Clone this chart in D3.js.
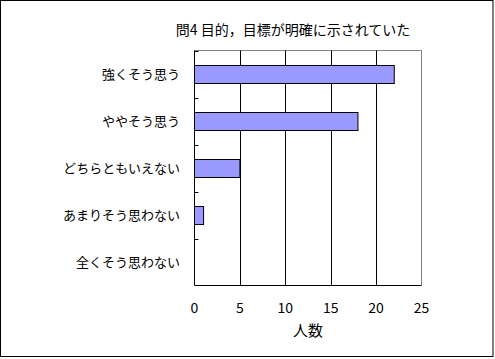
<!DOCTYPE html>
<html><head><meta charset="utf-8">
<script src="https://cdn.jsdelivr.net/npm/d3@7"></script>
<style>html,body{margin:0;padding:0;background:#fff;}svg{display:block;}</style>
</head><body>
<svg id="c" width="495" height="359"></svg>
<script>
const categories = ["強くそう思う","ややそう思う","どちらともいえない","あまりそう思わない","全くそう思わない"];
const values = [22, 18, 5, 1, 0];
const xTicks = [0, 5, 10, 15, 20, 25];
const title = "問4 目的，目標が明確に示されていた";
const xTitle = "人数";

const font = "'Noto Sans CJK JP', sans-serif";
const svg = d3.select("#c");
const L = 194.5, R = 421.5, T = 50.5, B = 285.5;

svg.append("rect").attr("x",0.5).attr("y",0.5).attr("width",492.5).attr("height",356)
  .attr("fill","#fff").attr("stroke","#000").attr("stroke-width",1);

const x = d3.scaleLinear().domain([0,25]).range([L,R]);
const y = d3.scaleBand().domain(categories).range([T,B]).paddingInner(0.617).paddingOuter(0.3085);
const yb = d3.scaleBand().domain(categories).range([T,B]);

// plot border (gray top/right)
svg.append("line").attr("x1",L).attr("x2",R).attr("y1",T).attr("y2",T).attr("stroke","#808080");
svg.append("line").attr("x1",R).attr("x2",R).attr("y1",T).attr("y2",B).attr("stroke","#808080");

// gridlines
svg.append("g").selectAll("line").data(xTicks.filter(d=>d>0&&d<25)).join("line")
  .attr("x1",d=>Math.round(x(d))+0.5).attr("x2",d=>Math.round(x(d))+0.5)
  .attr("y1",T).attr("y2",B).attr("stroke","#000");

// bars
svg.append("g").selectAll("rect").data(values).join("rect")
  .attr("x",L).attr("y",(d,i)=>Math.round(y(categories[i]))+0.5)
  .attr("width",d=>Math.max(0,x(d)-L)).attr("height",18)
  .attr("fill","#9999FF").attr("stroke","#000").attr("stroke-width",1)
  .attr("display",d=>d>0?null:"none");

// y axis
svg.append("line").attr("x1",L).attr("x2",L).attr("y1",T).attr("y2",B).attr("stroke","#000");
svg.append("g").selectAll("line").data(categories).join("line")
  .attr("x1",L).attr("x2",L+4)
  .attr("y1",d=>Math.round(yb(d))+0.5).attr("y2",d=>Math.round(yb(d))+0.5).attr("stroke","#000");
svg.append("g").selectAll("text").data(categories).join("text")
  .attr("x",180).attr("y",d=>yb(d)+yb.bandwidth()/2).attr("dy","0.35em")
  .attr("text-anchor","end").attr("font-family",font).attr("font-size",13).text(d=>d);

// x axis
svg.append("line").attr("x1",L).attr("x2",R).attr("y1",B).attr("y2",B).attr("stroke","#000");
svg.append("g").selectAll("text").data(xTicks).join("text")
  .attr("x",d=>x(d)).attr("y",313).attr("text-anchor","middle")
  .attr("font-family",font).attr("font-size",14).text(d=>d);

svg.append("text").attr("x",(L+R)/2).attr("y",336).attr("text-anchor","middle")
  .attr("font-family",font).attr("font-size",15).text(xTitle);

svg.append("text").attr("x",293).attr("y",35).attr("text-anchor","middle")
  .attr("font-family",font).attr("font-size",14).text(title);
</script>
</body></html>
